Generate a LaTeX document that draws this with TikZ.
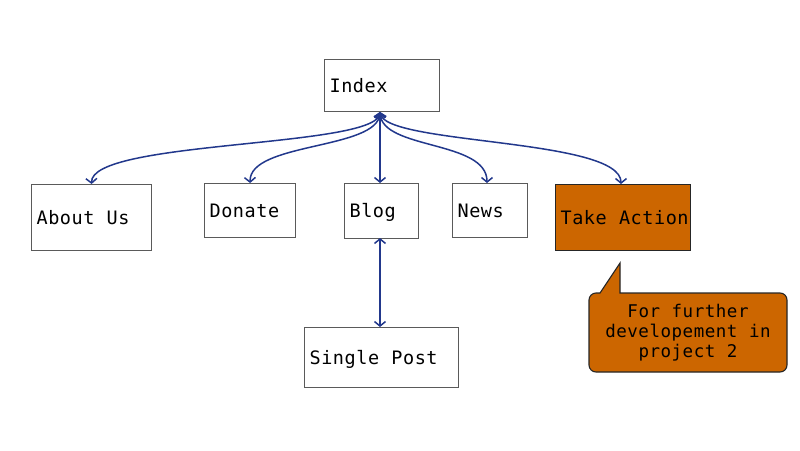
\documentclass[tikz,border=0pt]{standalone}
\usepackage{fontspec}
\newfontfamily\sketchmono{DejaVu Sans Mono}[LetterSpace=3]
\newcommand\monogap{\hspace{0.66em}}
\usetikzlibrary{arrows.meta}
\definecolor{linkblue}{RGB}{34,56,140}
\definecolor{boxgray}{RGB}{90,90,90}
\definecolor{actorange}{RGB}{204,102,0}
\begin{document}
\begin{tikzpicture}[x=1pt,y=-1pt,
  pagebox/.style={draw=boxgray,line width=1.2pt,rectangle,anchor=north west,
    inner xsep=5pt,inner ysep=0pt,align=left,text height=13.5pt,text depth=0pt,
    font=\sketchmono\fontsize{18.5}{22}\selectfont},
  link/.style={draw=linkblue,line width=1.5pt,{Straight Barb[length=4.5pt,width=11pt]}-{Straight Barb[length=4.5pt,width=11pt]}},
  notetext/.style={align=center,font=\sketchmono\fontsize{17.5}{20}\selectfont,inner sep=0pt}
]
\useasboundingbox (0,0) rectangle (800,450);
\node[pagebox,minimum width=115pt,minimum height=52pt,text width=105pt] (index) at (324,59) {Index};
\node[pagebox,minimum width=120pt,minimum height=66pt,text width=110pt] (about) at (31,184) {\mbox{About\monogap Us}};
\node[pagebox,minimum width=91pt,minimum height=54pt,text width=81pt] (donate) at (204,183) {Donate};
\node[pagebox,minimum width=74pt,minimum height=55pt,text width=64pt] (blog) at (344,183) {Blog};
\node[pagebox,minimum width=75pt,minimum height=54pt,text width=65pt] (news) at (452,183) {News};
\node[pagebox,fill=actorange,draw=black!85,minimum width=135pt,minimum height=66pt,text width=125pt] (action) at (555,184) {\mbox{Take\monogap Action}};
\node[pagebox,minimum width=154pt,minimum height=60pt,text width=144pt] (single) at (304,327) {\mbox{Single\monogap Post}};
\coordinate (idx) at (380,112);
\coordinate (blogb) at (380,238);
\coordinate (singlet) at (380,327);
\draw[link] (idx) .. controls (376,148) and (90,140) .. (about.north);
\draw[link] (idx) .. controls (378,150) and (249,142) .. (donate.north);
\draw[link] (idx) -- (380,183);
\draw[link] (idx) .. controls (382,150) and (487,140) .. (487,183);
\draw[link] (idx) .. controls (385,145) and (621,138) .. (621,184);
\draw[link] (blogb) -- (singlet);
\draw[fill=actorange,draw=black!85,line width=1.1pt] (620,293) [rounded corners=7pt] -- (787,293) -- (787,372) -- (589,372) -- (589,293) [sharp corners] -- (600,293) -- (620,263) -- cycle;
\node[notetext] (note) at (688,333) {For\monogap further\\developement\monogap in\\project\monogap 2};
\end{tikzpicture}
\end{document}
